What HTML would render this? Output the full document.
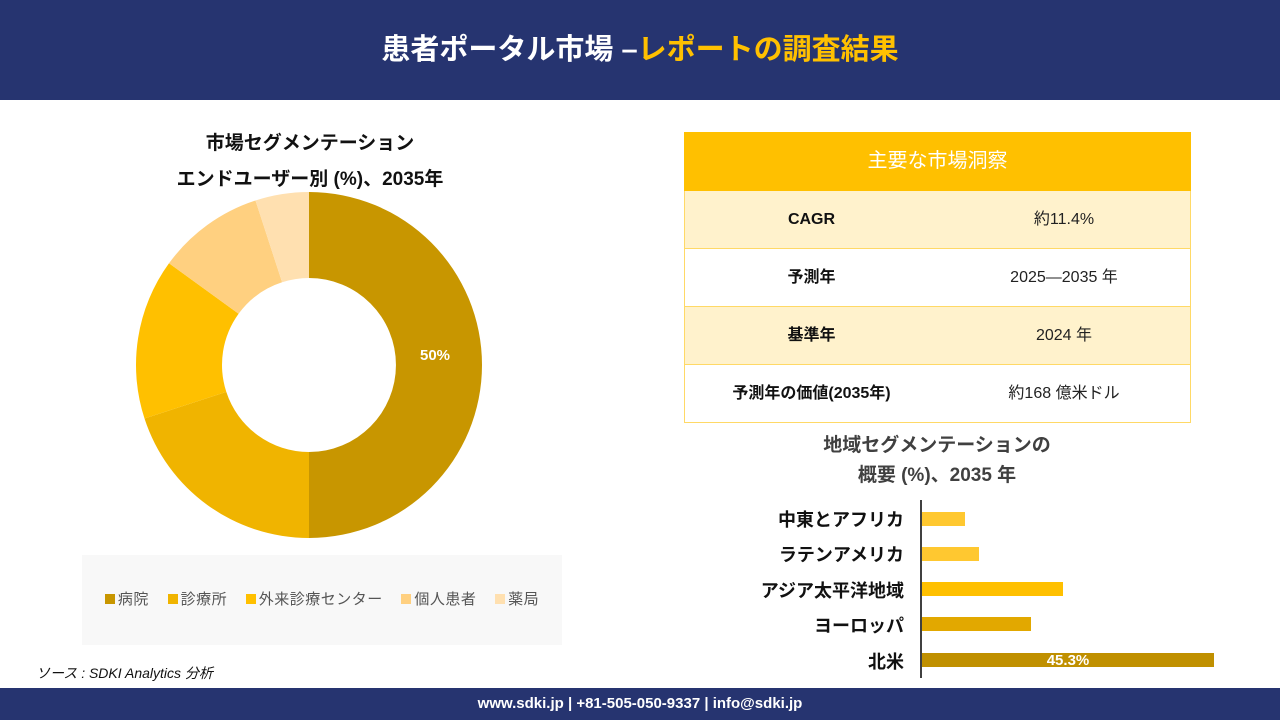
<!DOCTYPE html>
<html><head><meta charset="utf-8"><style>
body{margin:0;width:1280px;height:720px;position:relative;background:#fff;font-family:"Liberation Sans","Noto Sans CJK JP",sans-serif;overflow:hidden}
.a{position:absolute}
.hdr{left:0;top:0;width:1280px;height:100px;background:#263470;color:#fff;font-weight:bold;font-size:29px;text-align:center;line-height:100px}
.ftr{left:0;top:688px;width:1280px;height:32px;background:#263470;color:#fff;font-weight:bold;font-size:15px;text-align:center;line-height:32px}
.t{font-weight:bold;font-size:19px;color:#111;text-align:center}
.row{position:absolute;left:684px;width:505px;height:57px;border:1px solid #FFD966;border-top:none;font-size:16px;color:#222;line-height:57px}
.row div{position:absolute;top:0;text-align:center}
.row .k{left:0;width:253px;font-weight:bold;color:#111}
.row .v{left:253px;width:252px}
.lg{left:82px;top:555px;width:480px;height:90px;background:#f8f8f8;font-size:15px;color:#555;line-height:90px;text-align:center;letter-spacing:0.5px}
.lg span{display:inline-block;width:10px;height:10px;margin:0 3px 0 14px}
.bl{font-weight:bold;font-size:18px;color:#111;text-align:right;width:200px;left:704px}
.bar{left:922px;height:14px}
</style></head><body>
<div class="a hdr">患者ポータル市場 –<span style="color:#FFC000">レポートの調査結果</span></div>
<div class="a t" style="left:100px;top:126px;width:420px;line-height:36px">市場セグメンテーション<br>エンドユーザー別 (%)、2035年</div>
<svg class="a" style="left:0;top:0" width="640" height="560">
<path d="M309,192 A173,173 0 0 1 309,538 L309,452 A87,87 0 0 0 309,278Z" fill="#C89600"/>
<path d="M309,538 A173,173 0 0 1 144.5,418.5 L226.3,391.9 A87,87 0 0 0 309,452Z" fill="#F0B400"/>
<path d="M144.5,418.5 A173,173 0 0 1 169,263.3 L238.6,313.8 A87,87 0 0 0 226.3,391.9Z" fill="#FFC000"/>
<path d="M169,263.3 A173,173 0 0 1 255.5,200.5 L282.1,282.3 A87,87 0 0 0 238.6,313.8Z" fill="#FFD080"/>
<path d="M255.5,200.5 A173,173 0 0 1 309,192 L309,278 A87,87 0 0 0 282.1,282.3Z" fill="#FFE0B0"/>
<text x="435" y="360" fill="#fff" font-weight="bold" font-size="15" text-anchor="middle" font-family="Liberation Sans, sans-serif">50%</text>
</svg>
<div class="a lg"><span style="background:#C89600;margin-left:0"></span>病院 <span style="background:#F0B400"></span>診療所 <span style="background:#FFC000"></span>外来診療センター <span style="background:#FFD080"></span>個人患者 <span style="background:#FFE0B0"></span>薬局</div>
<div class="a" style="left:36px;top:663px;font-size:14px;font-style:italic;color:#111">ソース : SDKI Analytics 分析</div>
<div class="a" style="left:684px;top:132px;width:507px;height:59px;background:#FFC000;color:#fff;font-size:20px;text-align:center;line-height:59px">主要な市場洞察</div>
<div class="row" style="top:191px;background:#FFF2CC"><div class="k">CAGR</div><div class="v">約11.4%</div></div>
<div class="row" style="top:249px"><div class="k">予測年</div><div class="v">2025—2035 年</div></div>
<div class="row" style="top:307px;background:#FFF2CC"><div class="k">基準年</div><div class="v">2024 年</div></div>
<div class="row" style="top:365px"><div class="k">予測年の価値(2035年)</div><div class="v">約168 億米ドル</div></div>
<div class="a t" style="left:737px;top:431px;width:400px;line-height:30px;color:#404040">地域セグメンテーションの<br>概要 (%)、2035 年</div>
<div class="a" style="left:920px;top:500px;width:2px;height:178px;background:#404040"></div>
<div class="a bl" style="top:506px">中東とアフリカ</div>
<div class="a bl" style="top:541px">ラテンアメリカ</div>
<div class="a bl" style="top:577px">アジア太平洋地域</div>
<div class="a bl" style="top:612px">ヨーロッパ</div>
<div class="a bl" style="top:648px">北米</div>
<div class="a bar" style="top:512px;width:43px;background:#FFC830"></div>
<div class="a bar" style="top:547px;width:57px;background:#FFC830"></div>
<div class="a bar" style="top:582px;width:141px;background:#FFC000"></div>
<div class="a bar" style="top:617px;width:109px;background:#E2A800"></div>
<div class="a bar" style="top:653px;width:292px;background:#C09000;color:#fff;font-weight:bold;font-size:15px;line-height:14px;text-align:center;padding-top:1px;height:13px">45.3%</div>
<div class="a ftr">www.sdki.jp | +81-505-050-9337 | info@sdki.jp</div>
</body></html>
